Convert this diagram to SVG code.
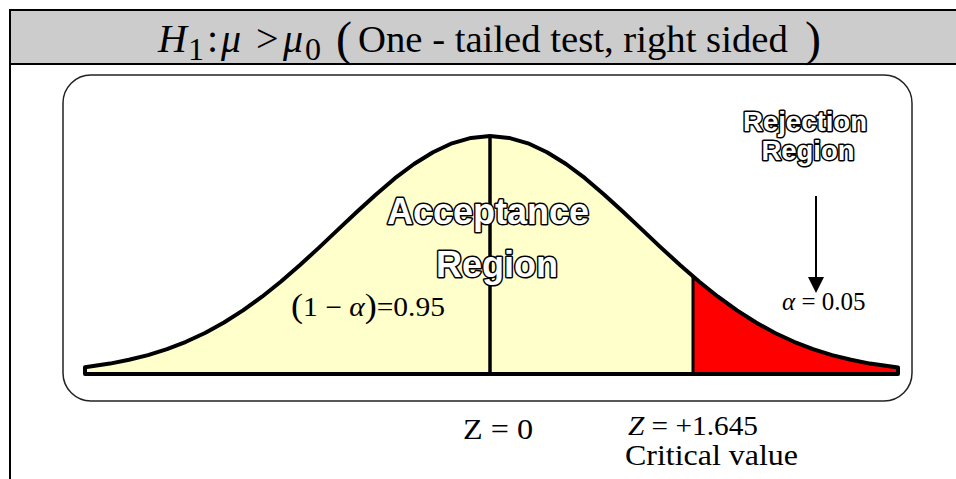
<svg xmlns="http://www.w3.org/2000/svg" width="956" height="479" viewBox="0 0 956 479">
<style>
.serif{font-family:'Liberation Serif','Times New Roman',serif;fill:#000}
.it{font-style:italic}
.outl{font-family:'Liberation Sans',Arial,sans-serif;font-weight:bold;fill:#fff;stroke:#000;stroke-width:3;paint-order:stroke;stroke-linejoin:round}
</style>
<g id="frame">
<rect x="0" y="0" width="956" height="479" fill="#fff"/>
<rect x="10" y="10" width="960" height="54" fill="#cccccc" stroke="#000" stroke-width="2"/>
<line x1="10" y1="64" x2="10" y2="479" stroke="#000" stroke-width="2"/>
</g>
<g id="title">
<text class="serif it" x="158" y="52" font-size="40">H</text>
<text class="serif" x="188" y="60" font-size="32">1</text>
<text class="serif" x="207" y="52" font-size="40">:</text>
<text class="serif it" x="221" y="52" font-size="40">μ</text>
<text class="serif" x="256" y="52" font-size="40">&gt;</text>
<text class="serif it" x="283" y="52" font-size="40">μ</text>
<text class="serif" x="305" y="60" font-size="32">0</text>
<text class="serif" x="336" y="55" font-size="48">(</text>
<text class="serif" x="358" y="52" font-size="38.7">One - tailed test,  right sided</text>
<text class="serif" x="805" y="55" font-size="48">)</text>
</g>
<g id="panel">
<rect x="63" y="75" width="849" height="326" rx="28" ry="28" fill="#fff" stroke="#222" stroke-width="1.5"/>
</g>
<g id="acceptance-area">
<path d="M85,374 L85,367.3 L110,363.6 L129,359.8 L148,355.1 L167,349.1 L186,341.8 L205,333 L224,322.5 L243,310.4 L262,296.7 L281,281.5 L300,265 L319,247.6 L338,229.6 L357,211.7 L376,194.4 L395,178.2 L414,164 L433,152.2 L452,143.3 L471,137.9 L490,136 L509,137.9 L528,143.3 L547,152.2 L566,164 L585,178.2 L604,194.4 L623,211.7 L642,229.6 L661,247.6 L680,265 L693,276.5 L693,374 Z" fill="#ffffcc"/>
</g>
<g id="rejection-area">
<path d="M693,374 L693,276.5 L699,281.5 L718,296.7 L737,310.4 L756,322.5 L775,333 L794,341.8 L813,349.1 L832,355.1 L851,359.8 L870,363.6 L898,367.5 L898,374 Z" fill="#ff0000"/>
</g>
<g id="curve">
<path d="M85,374 L85,367.3 L110,363.6 L129,359.8 L148,355.1 L167,349.1 L186,341.8 L205,333 L224,322.5 L243,310.4 L262,296.7 L281,281.5 L300,265 L319,247.6 L338,229.6 L357,211.7 L376,194.4 L395,178.2 L414,164 L433,152.2 L452,143.3 L471,137.9 L490,136 L509,137.9 L528,143.3 L547,152.2 L566,164 L585,178.2 L604,194.4 L623,211.7 L642,229.6 L661,247.6 L680,265 L699,281.5 L718,296.7 L737,310.4 L756,322.5 L775,333 L794,341.8 L813,349.1 L832,355.1 L851,359.8 L870,363.6 L898,367.5 L898,374 Z" fill="none" stroke="#000" stroke-width="4" stroke-linejoin="round"/>
<line x1="490" y1="136" x2="490" y2="374" stroke="#000" stroke-width="3.5"/>
<line x1="693" y1="276.5" x2="693" y2="374" stroke="#000" stroke-width="3"/>
</g>
<g id="connectors">
<line x1="816" y1="196" x2="816" y2="279" stroke="#000" stroke-width="2"/>
<path d="M808,277 L824,277 L816,293 Z" fill="#000"/>
</g>
<g id="labels">
<text class="outl" x="488" y="224" font-size="36" text-anchor="middle">Acceptance</text>
<text class="outl" x="497" y="277" font-size="36" text-anchor="middle">Region</text>
<text class="outl" x="805" y="131" font-size="27" text-anchor="middle" textLength="124" lengthAdjust="spacingAndGlyphs">Rejection</text>
<text class="outl" x="808" y="160" font-size="27" text-anchor="middle" textLength="93" lengthAdjust="spacingAndGlyphs">Region</text>
<text class="serif" x="291" y="316" font-size="27" textLength="154" lengthAdjust="spacingAndGlyphs"><tspan font-size="33" dy="1">(</tspan><tspan dy="-1">1 − </tspan><tspan class="it">α</tspan><tspan font-size="33" dy="1">)</tspan><tspan dy="-1">=0.95</tspan></text>
<text class="serif" x="782" y="310" font-size="25"><tspan class="it">α</tspan> = 0.05</text>
<text class="serif" x="463" y="439" font-size="30" textLength="70" lengthAdjust="spacingAndGlyphs">Z = 0</text>
<text class="serif" x="628" y="435" font-size="28" textLength="130" lengthAdjust="spacingAndGlyphs"><tspan class="it">Z</tspan> = +1.645</text>
<text class="serif" x="625" y="465" font-size="30" textLength="173" lengthAdjust="spacingAndGlyphs">Critical value</text>
</g>
</svg>
